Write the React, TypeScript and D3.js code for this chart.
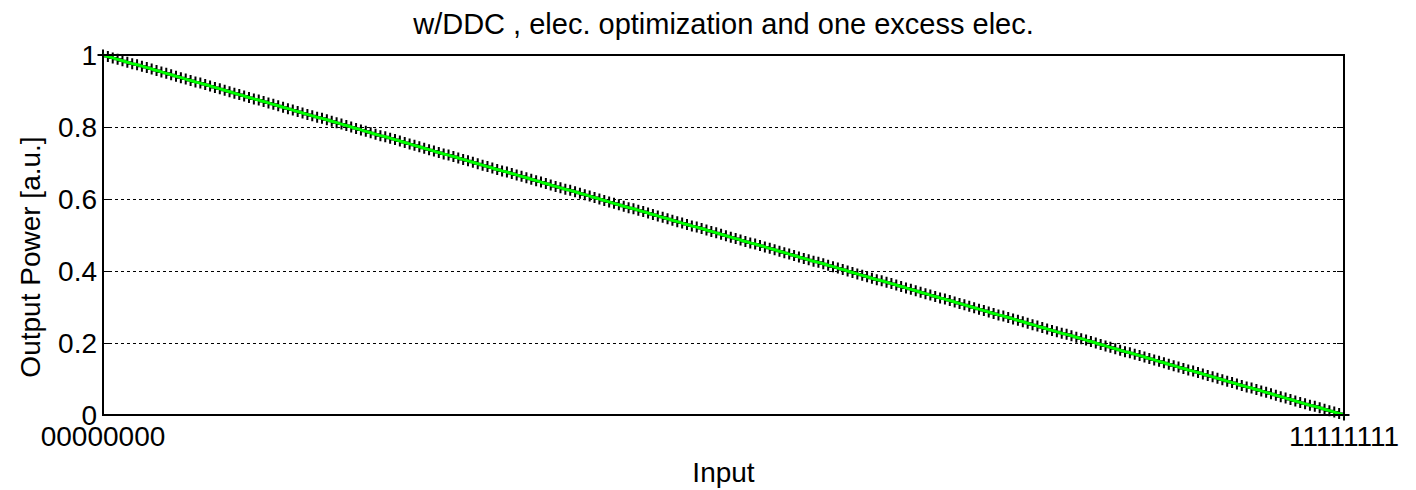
import React, { useEffect, useRef } from "react";
import * as d3 from "d3";

const TITLE = "w/DDC , elec. optimization and one excess elec.";
const X_LABEL = "Input";
const Y_LABEL = "Output Power [a.u.]";
const X_TICKS: [number, string][] = [
  [0, "00000000"],
  [255, "11111111"],
];
const Y_TICKS = [0, 0.2, 0.4, 0.6, 0.8, 1];
const Y_TICK_LABELS = ["0", "0.2", "0.4", "0.6", "0.8", "1"];
const GRID_Y = [0.2, 0.4, 0.6, 0.8];

// Output power vs. input code (0..255)
const outputPower = [
  1.0, 0.996, 0.992, 0.988, 0.984, 0.98, 0.976, 0.973, 0.969, 0.965, 0.961, 0.957, 0.953, 0.949, 0.945, 0.941, 0.937,
  0.933, 0.929, 0.925, 0.922, 0.918, 0.914, 0.91, 0.906, 0.902, 0.898, 0.894, 0.89, 0.886, 0.882, 0.878, 0.875, 0.871,
  0.867, 0.863, 0.859, 0.855, 0.851, 0.847, 0.843, 0.839, 0.835, 0.831, 0.827, 0.824, 0.82, 0.816, 0.812, 0.808, 0.804,
  0.8, 0.796, 0.792, 0.788, 0.784, 0.78, 0.776, 0.773, 0.769, 0.765, 0.761, 0.757, 0.753, 0.749, 0.745, 0.741, 0.737,
  0.733, 0.729, 0.725, 0.722, 0.718, 0.714, 0.71, 0.706, 0.702, 0.698, 0.694, 0.69, 0.686, 0.682, 0.678, 0.675, 0.671,
  0.667, 0.663, 0.659, 0.655, 0.651, 0.647, 0.643, 0.639, 0.635, 0.631, 0.627, 0.624, 0.62, 0.616, 0.612, 0.608, 0.604,
  0.6, 0.596, 0.592, 0.588, 0.584, 0.58, 0.576, 0.573, 0.569, 0.565, 0.561, 0.557, 0.553, 0.549, 0.545, 0.541, 0.537,
  0.533, 0.529, 0.525, 0.522, 0.518, 0.514, 0.51, 0.506, 0.502, 0.498, 0.494, 0.49, 0.486, 0.482, 0.478, 0.475, 0.471,
  0.467, 0.463, 0.459, 0.455, 0.451, 0.447, 0.443, 0.439, 0.435, 0.431, 0.427, 0.424, 0.42, 0.416, 0.412, 0.408, 0.404,
  0.4, 0.396, 0.392, 0.388, 0.384, 0.38, 0.376, 0.373, 0.369, 0.365, 0.361, 0.357, 0.353, 0.349, 0.345, 0.341, 0.337,
  0.333, 0.329, 0.325, 0.322, 0.318, 0.314, 0.31, 0.306, 0.302, 0.298, 0.294, 0.29, 0.286, 0.282, 0.278, 0.275, 0.271,
  0.267, 0.263, 0.259, 0.255, 0.251, 0.247, 0.243, 0.239, 0.235, 0.231, 0.227, 0.224, 0.22, 0.216, 0.212, 0.208, 0.204,
  0.2, 0.196, 0.192, 0.188, 0.184, 0.18, 0.176, 0.173, 0.169, 0.165, 0.161, 0.157, 0.153, 0.149, 0.145, 0.141, 0.137,
  0.133, 0.129, 0.125, 0.122, 0.118, 0.114, 0.11, 0.106, 0.102, 0.098, 0.094, 0.09, 0.086, 0.082, 0.078, 0.075, 0.071,
  0.067, 0.063, 0.059, 0.055, 0.051, 0.047, 0.043, 0.039, 0.035, 0.031, 0.027, 0.024, 0.02, 0.016, 0.012, 0.008, 0.004,
  0.0,
];

const W = 1416;
const H = 490;
const M = { left: 103, right: 1344, top: 55, bottom: 415 };
const FONT = "'Liberation Sans', Arial, sans-serif";

export default function App() {
  const ref = useRef<SVGSVGElement>(null);

  useEffect(() => {
    const svg = d3.select(ref.current);
    svg.selectAll("*").remove();

    const x = d3.scaleLinear().domain([0, 255]).range([M.left, M.right]);
    const y = d3.scaleLinear().domain([0, 1]).range([M.bottom, M.top]);

    svg.append("rect").attr("width", W).attr("height", H).attr("fill", "#fff");

    // grid
    svg
      .append("g")
      .selectAll("line")
      .data(GRID_Y)
      .join("line")
      .attr("x1", M.left)
      .attr("x2", M.right)
      .attr("y1", (d) => y(d))
      .attr("y2", (d) => y(d))
      .attr("stroke", "#000")
      .attr("stroke-width", 1)
      .attr("stroke-dasharray", "3,3")
      .attr("shape-rendering", "crispEdges");

    // ticks (inward, both sides)
    const tg = svg.append("g").attr("stroke", "#000").attr("shape-rendering", "crispEdges");
    Y_TICKS.forEach((v) => {
      tg.append("line").attr("x1", M.left).attr("x2", M.left + 7).attr("y1", y(v)).attr("y2", y(v));
      tg.append("line").attr("x1", M.right).attr("x2", M.right - 7).attr("y1", y(v)).attr("y2", y(v));
    });
    X_TICKS.forEach(([v]) => {
      tg.append("line").attr("x1", x(v)).attr("x2", x(v)).attr("y1", M.bottom).attr("y2", M.bottom - 7);
      tg.append("line").attr("x1", x(v)).attr("x2", x(v)).attr("y1", M.top).attr("y2", M.top + 7);
    });

    // data: markers '+'
    const data = outputPower.map((v, i) => [i, v] as [number, number]);
    const s = 5.5;
    svg
      .append("path")
      .attr(
        "d",
        data
          .map(([i, v]) => {
            const cx = x(i);
            const cy = y(v);
            return `M${cx - s},${cy}H${cx + s}M${cx},${cy - s}V${cy + s}`;
          })
          .join("")
      )
      .attr("stroke", "#000")
      .attr("stroke-width", 2)
      .attr("fill", "none");

    // green line
    const line = d3
      .line<[number, number]>()
      .x((d) => x(d[0]))
      .y((d) => y(d[1]));
    svg
      .append("path")
      .datum(data)
      .attr("d", line)
      .attr("stroke", "#00ff00")
      .attr("stroke-width", 3)
      .attr("fill", "none");

    // box
    svg
      .append("rect")
      .attr("x", M.left)
      .attr("y", M.top)
      .attr("width", M.right - M.left)
      .attr("height", M.bottom - M.top)
      .attr("fill", "none")
      .attr("stroke", "#000")
      .attr("stroke-width", 1.5)
      .attr("shape-rendering", "crispEdges");

    // tick labels
    const tl = svg.append("g").attr("font-family", FONT).attr("font-size", 28).attr("fill", "#000");
    Y_TICKS.forEach((v, i) => {
      tl.append("text")
        .attr("x", M.left - 6)
        .attr("y", y(v))
        .attr("dy", "0.34em")
        .attr("text-anchor", "end")
        .text(Y_TICK_LABELS[i]);
    });
    X_TICKS.forEach(([v, lab]) => {
      tl.append("text").attr("x", x(v)).attr("y", 446).attr("text-anchor", "middle").text(lab);
    });

    svg
      .append("text")
      .attr("x", (M.left + M.right) / 2)
      .attr("y", 482)
      .attr("text-anchor", "middle")
      .attr("font-family", FONT)
      .attr("font-size", 28)
      .text(X_LABEL);

    svg
      .append("text")
      .attr("transform", `translate(40,${(M.top + M.bottom) / 2 + 22}) rotate(-90)`)
      .attr("text-anchor", "middle")
      .attr("font-family", FONT)
      .attr("font-size", 28)
      .text(Y_LABEL);

    svg
      .append("text")
      .attr("x", (M.left + M.right) / 2)
      .attr("y", 34)
      .attr("text-anchor", "middle")
      .attr("font-family", FONT)
      .attr("font-size", 29)
      .text(TITLE);
  }, []);

  return (
    <svg
      ref={ref}
      width={W}
      height={H}
      style={{ position: "absolute", left: 0, top: 0, display: "block" }}
    />
  );
}
